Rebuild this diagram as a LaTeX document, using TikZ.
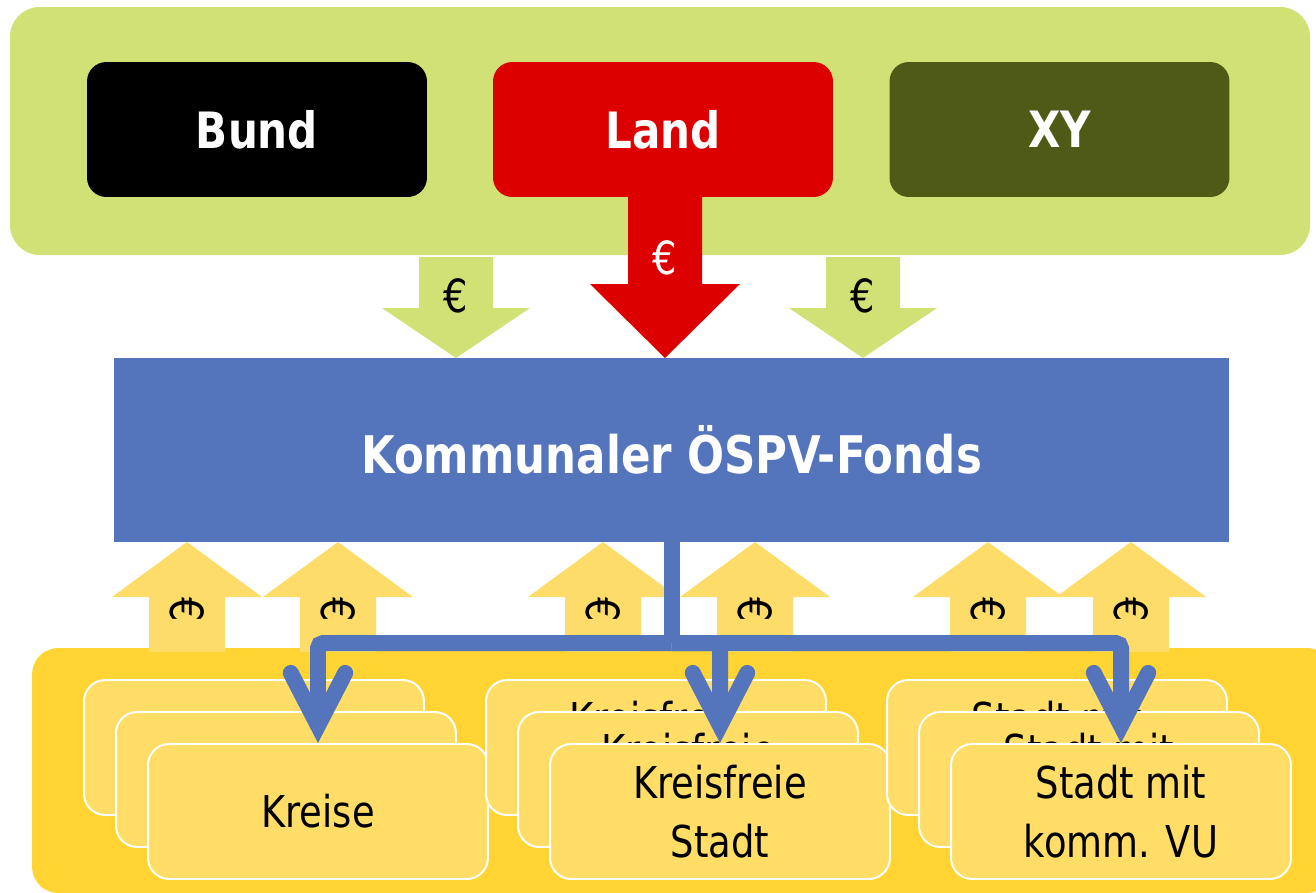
\documentclass[tikz,border=0pt]{standalone}
\usepackage{fontspec}
\setmainfont{DejaVu Sans}[FakeStretch=0.84]
\usetikzlibrary{arrows.meta}

\definecolor{topgreen}{RGB}{209,225,117}
\definecolor{landred}{RGB}{221,0,0}
\definecolor{xyolive}{RGB}{79,90,23}
\definecolor{fondsblue}{RGB}{84,117,187}
\definecolor{arrowyellow}{RGB}{253,220,105}
\definecolor{bgyellow}{RGB}{255,212,51}
\definecolor{cardyellow}{RGB}{255,221,102}

\begin{document}
\begin{tikzpicture}[x=0.02cm,y=-0.02cm,
	box/.style={rounded corners=11pt, minimum width=6.8cm, minimum height=2.7cm, text=white, font=\fontsize{28.5}{32}\selectfont\bfseries},
	card/.style={draw=white, line width=1.1pt, fill=cardyellow, rounded corners=12pt, minimum width=6.8cm, minimum height=2.7cm, align=center, font=\fontsize{25}{33.5}\selectfont},
	eur/.style={font=\fontsize{26}{30}\selectfont},
	conn/.style={draw=fondsblue, line width=9.1pt, rounded corners=3pt}]

	\useasboundingbox (0,0) rectangle (1316,893);
	\clip (0,0) rectangle (1316,893);

	% Geldgeber
	\fill[topgreen, rounded corners=17pt] (10,7) rectangle (1310,255);
	\node[box, fill=black] (bund) at (257,129.5) {Bund};
	\node[box, fill=landred] (land) at (663,129.5) {Land};
	\node[box, fill=xyolive] (xy) at (1059.5,129.5) {XY};

	% Zufluss in den Fonds
	\fill[landred] (628,196) -- (628,284) -- (590,284) -- (665,358) -- (740,284) -- (702,284) -- (702,196) -- cycle;
	\node[eur, text=white] (eurland) at (665,258) {€};
	\foreach \cx in {456,863}{
		\fill[topgreen] (\cx-37,257) -- (\cx-37,308) -- (\cx-74,308) -- (\cx,358) -- (\cx+74,308) -- (\cx+37,308) -- (\cx+37,257) -- cycle;
		\node[eur] (eur\cx) at (\cx,296) {€};
	}

	\node[fill=fondsblue, minimum width=22.3cm, minimum height=3.68cm, text=white, font=\fontsize{29.5}{34}\selectfont\bfseries] (fonds) at (671.5,450) {Kommunaler ÖSPV-Fonds};

	\fill[bgyellow, rounded corners=15pt] (32,648) rectangle (1333,893);

	% Umlage der Kommunen
	\foreach \cx in {187,338,603,755,988,1131}{
		\fill[arrowyellow] (\cx-38,652) -- (\cx-38,597) -- (\cx-75,597) -- (\cx,542) -- (\cx+75,597) -- (\cx+38,597) -- (\cx+38,652) -- cycle;
		\node[eur, rotate=-90] (up\cx) at (\cx,610) {€};
	}

	% Kommunen
	\foreach \g/\dx/\txt in {kr/0/Kreise, kf/402/{Kreisfreie\\Stadt}, st/803/{Stadt mit\\komm. VU}}{
		\foreach \i in {1,2,3}
			\node[card] (\g\i) at ({254+\dx+32*(\i-1)},{747.5+32*(\i-1)}) {\txt};
	}

	% Verteilung
	\coordinate (hub) at (671.5,643);
	\draw[conn] (fonds.south) -- (hub);
	\foreach \g in {kr,kf,st}
		\draw[conn, -{Straight Barb[length=30pt, width=31pt, line cap=round, line join=miter]}] (hub) -| (\g3.north);
\end{tikzpicture}
\end{document}
